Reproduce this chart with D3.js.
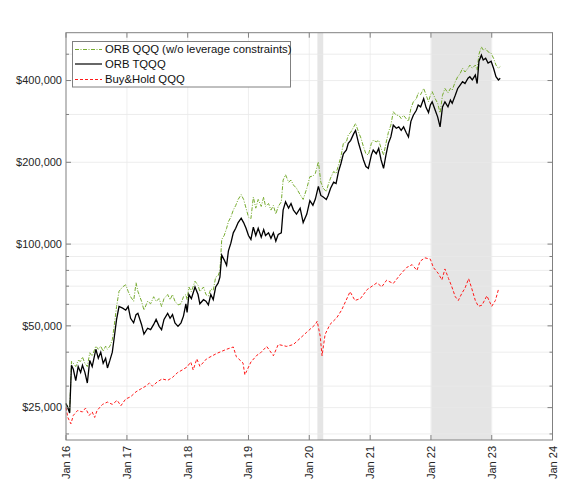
<!DOCTYPE html>
<html>
<head>
<meta charset="utf-8">
<script src="https://cdn.jsdelivr.net/npm/d3@7"></script>
<style>
  body { margin: 0; background: #fff; }
  svg { font-family: "Liberation Sans", Arial, sans-serif; }
</style>
</head>
<body>
<div id="chart"></div>
<script>
// dates as decimal years, values in dollars
var orbYears = [
  2016.00,2016.03,2016.06,2016.09,2016.12,2016.16,2016.20,2016.24,2016.27,2016.31,2016.35,2016.39,2016.43,2016.49,
  2016.53,2016.57,2016.61,2016.65,2016.68,2016.72,2016.76,2016.79,2016.83,2016.87,2016.93,2016.98,
  2017.02,2017.06,2017.11,2017.15,2017.18,2017.24,2017.28,2017.34,2017.39,2017.44,2017.48,2017.53,2017.57,
  2017.61,2017.67,2017.71,2017.75,2017.79,2017.84,2017.89,2017.93,2017.97,2017.99,
  2018.02,2018.06,2018.12,2018.17,2018.20,2018.26,2018.30,2018.34,2018.38,2018.42,2018.46,2018.50,2018.53,
  2018.56,2018.60,2018.64,2018.67,2018.71,2018.75,2018.79,2018.83,2018.88,2018.92,2018.96,
  2019.00,2019.04,2019.08,2019.12,2019.16,2019.21,2019.25,2019.28,2019.33,2019.37,2019.41,2019.45,2019.49,
  2019.54,2019.57,2019.61,2019.66,2019.70,2019.74,2019.79,2019.85,2019.90,2019.96,
  2020.01,2020.06,2020.10,2020.15,2020.19,2020.23,2020.28,2020.31,2020.35,2020.40,2020.44,2020.48,2020.52,
  2020.56,2020.61,2020.64,2020.68,2020.73,2020.76,2020.81,2020.85,2020.89,2020.93,2020.97,
  2021.02,2021.05,2021.10,2021.14,2021.18,2021.22,2021.26,2021.30,2021.34,2021.38,2021.43,2021.47,2021.51,
  2021.55,2021.59,2021.63,2021.67,2021.71,2021.76,2021.79,2021.83,2021.88,2021.92,2021.96,2021.99,
  2022.02,2022.07,2022.11,2022.15,2022.19,2022.23,2022.28,2022.32,2022.35,2022.40,2022.44,2022.48,2022.52,
  2022.56,2022.61,2022.64,2022.68,2022.73,2022.76,2022.79,2022.83,2022.86,2022.90,2022.94,2022.99,
  2023.03,2023.07,2023.11,2023.14];

var orbQQQ = [
  25900,25200,24200,37000,36400,35400,37300,37000,38400,36400,35400,39800,38700,42100,
  41000,42100,40300,42100,41000,42100,44400,49800,58900,67000,69600,70800,
  67000,64000,61600,72000,67000,61600,57100,61600,60300,64000,61600,63000,58900,
  63000,65200,62400,65200,61600,59700,60300,64000,65200,62400,
  69500,66800,73000,70500,66800,69500,65200,64300,68400,67600,75500,76500,79800,
  104000,107500,114300,121000,125700,133400,138700,146000,152000,146000,135600,
  125700,124000,149000,135600,146000,137600,149000,137600,141000,133400,138700,129000,137600,
  143000,172000,180000,169000,172000,165000,160500,152000,146000,160500,
  177000,178000,182000,201000,169000,160500,156000,165000,175000,185000,182000,195000,210000,
  235000,238000,252000,258000,270000,278000,258000,245000,228000,215000,213000,
  235000,241000,238000,241000,225000,213000,235000,258000,274000,307000,298000,298000,290000,
  298000,290000,283000,316000,334000,343000,360000,355000,374000,354000,334000,353000,
  364000,343000,330000,304000,353000,374000,360000,374000,369000,396000,413000,424000,444000,
  430000,444000,456000,444000,456000,437000,500000,532000,518000,524000,510000,504000,
  483000,456000,444000,450000];

var orbTQQQ = [
  25900,24900,23900,35800,34600,31400,35400,33700,35800,33700,30800,37300,35400,41000,
  38000,40000,36400,38000,35000,37300,40000,45000,52800,58900,58100,57100,
  58900,53300,51300,55000,55600,50600,46600,49000,48400,50600,52800,49800,48400,
  52800,55600,53300,55000,51300,49800,51300,54300,60300,56000,
  65200,63000,69500,65200,60300,62400,61600,59700,65200,62400,69500,71800,75500,
  91100,87500,83500,94400,100800,110000,114300,120000,124600,120000,114300,
  107500,104000,115500,107500,114300,106000,113000,107500,110000,105000,110000,102600,108600,
  110000,133400,143000,135600,141000,133400,129000,135600,120000,129000,
  144500,139000,146500,163000,151000,149000,146000,151000,160500,169000,167000,185000,198000,
  215000,222000,235000,241000,255000,262000,235000,219000,204000,193000,190000,
  213000,222000,215000,225000,204000,190000,213000,235000,248000,274000,267000,270000,262000,
  270000,258000,248000,283000,298000,311000,325000,320000,343000,318000,305000,325000,
  334000,311000,294000,270000,320000,334000,320000,339000,330000,353000,374000,385000,396000,
  390000,408000,413000,402000,419000,390000,471000,496000,476000,483000,464000,471000,
  444000,413000,402000,408000];

var bhYears = [
  2016.00,2016.03,2016.08,2016.12,2016.19,2016.27,2016.32,2016.38,2016.43,2016.47,2016.51,2016.60,2016.68,
  2016.76,2016.84,2016.90,2016.98,2017.06,2017.15,2017.23,2017.31,2017.37,2017.42,2017.50,2017.58,2017.67,
  2017.75,2017.83,2017.91,2017.99,2018.05,2018.09,2018.15,2018.20,2018.31,2018.48,2018.64,2018.75,2018.80,
  2018.91,2018.94,2019.04,2019.14,2019.19,2019.30,2019.41,2019.49,2019.63,2019.74,2019.85,2019.96,
  2020.10,2020.13,2020.18,2020.21,2020.26,2020.34,2020.45,2020.53,2020.67,2020.75,2020.84,2020.95,
  2021.11,2021.19,2021.27,2021.38,2021.49,2021.60,2021.69,2021.77,2021.82,2021.90,2021.99,
  2022.04,2022.12,2022.18,2022.23,2022.29,2022.34,2022.40,2022.45,2022.51,2022.56,2022.62,2022.67,
  2022.73,2022.78,2022.84,2022.92,2023.00,2023.06,2023.11];

var bhQQQ = [
  25000,23000,21800,23400,24400,24100,24900,23400,24100,23000,24400,25700,26200,
  25700,26600,25400,26900,27400,28600,29300,30000,30800,30000,31100,31900,31500,
  32300,33600,34400,35300,36800,34400,37800,35500,37800,39600,41000,41800,38500,
  36500,33000,36800,39000,39600,42000,38800,42700,42000,42700,45000,47400,
  50600,52000,45800,38800,46500,50600,53500,57100,66800,62000,63000,68000,
  72000,69600,73600,71600,77000,82000,84000,80000,86400,89000,88000,
  82000,78000,73800,81000,74600,70000,64000,62000,66000,68800,74600,68800,
  62000,59000,59600,64500,59000,62000,68000];

var shadeStarts = ["2020-02-19", "2022-01-03"];
var shadeEnds = ["2020-03-25", "2022-12-30"];

var yTickValues = [25000, 50000, 100000, 200000, 400000];
var yMinorValues = [20000, 30000, 40000, 60000, 70000, 80000, 90000, 300000, 500000];
var xTickYears = [2016, 2017, 2018, 2019, 2020, 2021, 2022, 2023, 2024];

var legendNames = ["ORB QQQ (w/o leverage constraints)", "ORB TQQQ", "Buy&Hold QQQ"];

// decimal year -> Date
function yearToDate(t) {
  var yr = Math.floor(t);
  var start = new Date(yr, 0, 1), end = new Date(yr + 1, 0, 1);
  return new Date(+start + (t - yr) * (end - start));
}

var W = 578, H = 493;
var plot = { left: 66, right: 552.5, top: 32.7, bottom: 440 };

var svg = d3.select("#chart").append("svg")
  .attr("width", W)
  .attr("height", H);

var x = d3.scaleTime()
  .domain([new Date(2016, 0, 1), new Date(2024, 0, 1)])
  .range([plot.left, plot.right]);

var y = d3.scaleLog()
  .domain([19000, 600000])
  .range([plot.bottom, plot.top]);

var parse = d3.timeParse("%Y-%m-%d");

// shaded periods
svg.append("g").selectAll("rect")
  .data(shadeStarts)
  .enter().append("rect")
  .attr("x", function (d) { return x(parse(d)); })
  .attr("y", plot.top)
  .attr("width", function (d, i) { return x(parse(shadeEnds[i])) - x(parse(d)); })
  .attr("height", plot.bottom - plot.top)
  .attr("fill", "#e5e5e5");

// grid
var grid = svg.append("g");
grid.selectAll(".vgrid")
  .data(xTickYears.slice(1, -1))
  .enter().append("line")
  .attr("x1", function (d) { return x(new Date(d, 0, 1)); })
  .attr("x2", function (d) { return x(new Date(d, 0, 1)); })
  .attr("y1", plot.top).attr("y2", plot.bottom)
  .attr("stroke", "#ebebeb").attr("stroke-width", 0.8);
grid.selectAll(".hgrid")
  .data(yTickValues.concat(yMinorValues))
  .enter().append("line")
  .attr("x1", plot.left).attr("x2", plot.right)
  .attr("y1", function (d) { return y(d); })
  .attr("y2", function (d) { return y(d); })
  .attr("stroke", "#e8e8e8").attr("stroke-width", 0.8);

// lines
var line = d3.line()
  .x(function (d) { return x(d[0]); })
  .y(function (d) { return y(d[1]); });

var greenData = orbYears.map(function (t, i) { return [yearToDate(t), orbQQQ[i]]; });
var blackData = orbYears.map(function (t, i) { return [yearToDate(t), orbTQQQ[i]]; });
var redData = bhYears.map(function (t, i) { return [yearToDate(t), bhQQQ[i]]; });

svg.append("path").datum(redData)
  .attr("d", line)
  .attr("fill", "none")
  .attr("stroke", "#ff1a1a")
  .attr("stroke-width", 1)
  .attr("stroke-dasharray", "3,2");

svg.append("path").datum(greenData)
  .attr("d", line)
  .attr("fill", "none")
  .attr("stroke", "#77ac30")
  .attr("stroke-width", 1)
  .attr("stroke-dasharray", "4,1.5,1,1.5");

svg.append("path").datum(blackData)
  .attr("d", line)
  .attr("fill", "none")
  .attr("stroke", "#000")
  .attr("stroke-width", 1.3);

// axes box
var axisColor = "#808080";
svg.append("rect")
  .attr("x", plot.left).attr("y", plot.top)
  .attr("width", plot.right - plot.left).attr("height", plot.bottom - plot.top)
  .attr("fill", "none").attr("stroke", axisColor).attr("stroke-width", 1);

// x ticks (bottom and top, inward)
var xt = svg.append("g");
xTickYears.forEach(function (yr) {
  var px = x(new Date(yr, 0, 1));
  xt.append("line").attr("x1", px).attr("x2", px).attr("y1", plot.bottom).attr("y2", plot.bottom - 5).attr("stroke", axisColor);
  xt.append("line").attr("x1", px).attr("x2", px).attr("y1", plot.top).attr("y2", plot.top + 5).attr("stroke", axisColor);
  xt.append("text")
    .attr("transform", "translate(" + (px + 4) + "," + (plot.bottom + 6) + ") rotate(-90)")
    .attr("text-anchor", "end")
    .attr("font-size", 11)
    .attr("fill", "#262626")
    .text("Jan " + String(yr).slice(2));
});

// y ticks
var yt = svg.append("g");
yTickValues.concat(yMinorValues).forEach(function (v) {
  var py = y(v);
  var len = yTickValues.indexOf(v) >= 0 ? 5 : 3;
  yt.append("line").attr("x1", plot.left).attr("x2", plot.left + len).attr("y1", py).attr("y2", py).attr("stroke", axisColor);
  yt.append("line").attr("x1", plot.right).attr("x2", plot.right - len).attr("y1", py).attr("y2", py).attr("stroke", axisColor);
});
var fmt = d3.format(",");
yt.selectAll("text")
  .data(yTickValues)
  .enter().append("text")
  .attr("x", plot.left - 4)
  .attr("y", function (d) { return y(d); })
  .attr("dy", "0.35em")
  .attr("text-anchor", "end")
  .attr("font-size", 11)
  .attr("fill", "#262626")
  .text(function (d) { return "$" + fmt(d); });

// legend
var lg = svg.append("g");
lg.append("rect")
  .attr("x", 72.5).attr("y", 41.5)
  .attr("width", 218).attr("height", 45.5)
  .attr("fill", "#fff").attr("stroke", axisColor).attr("stroke-width", 1);
var legendStyles = [
  { color: "#77ac30", dash: "4,1.5,1,1.5", w: 1 },
  { color: "#000", dash: null, w: 1.2 },
  { color: "#ff1a1a", dash: "3,2", w: 1 }
];
var legendRows = [49.5, 64, 79.5];
legendNames.forEach(function (name, i) {
  lg.append("line")
    .attr("x1", 75).attr("x2", 102)
    .attr("y1", legendRows[i]).attr("y2", legendRows[i])
    .attr("stroke", legendStyles[i].color)
    .attr("stroke-width", legendStyles[i].w)
    .attr("stroke-dasharray", legendStyles[i].dash);
  lg.append("text")
    .attr("x", 105).attr("y", legendRows[i])
    .attr("dy", "0.35em")
    .attr("font-size", 11.3)
    .attr("fill", "#111")
    .text(name);
});
</script>
</body>
</html>
